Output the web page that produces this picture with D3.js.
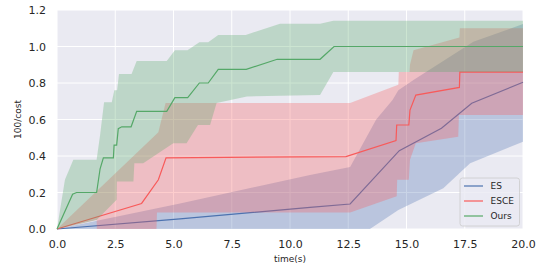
<!DOCTYPE html>
<html><head><meta charset="utf-8">
<script src="https://cdn.jsdelivr.net/npm/d3@7"></script>
<style>body{margin:0;background:#fff}svg{display:block}text{font-family:"DejaVu Sans",sans-serif;fill:#262626}</style>
</head><body><svg id="c" width="541" height="265"></svg>
<script>
// ---- data (time in s, value = 100/cost) ----
const xTicks = [0, 2.5, 5, 7.5, 10, 12.5, 15, 17.5, 20];
const yTicks = [0, 0.2, 0.4, 0.6, 0.8, 1.0, 1.2];
const seriesNames = ["ES", "ESCE", "Ours"];

const esMean = [[0,0],[5.28,0.055],[10.86,0.119],[12.58,0.137],[14.69,0.429],[16.5,0.552],[17.8,0.689],[20,0.804]];
const esUpper = [[0,0],[5.28,0.14],[10.86,0.296],[12.58,0.34],[13.7,0.6],[14.4,0.707],[14.65,0.76],[15.3,0.816],[17.87,1.026],[20,1.123]];
const esLower = [[0,0],[13.43,0],[14.65,0.104],[16.58,0.223],[17.73,0.36],[20,0.478]];

const esceMean = [[0,0],[3.63,0.14],[4.35,0.27],[4.68,0.39],[12.4,0.397],[14.55,0.484],[14.58,0.57],[15.1,0.57],[15.15,0.652],[15.4,0.734],[17.27,0.776],[17.29,0.86],[20,0.86]];
const esceUpper = [[0,0],[4.35,0.53],[4.66,0.69],[12.58,0.69],[14.65,0.79],[14.67,0.86],[15.13,0.86],[15.15,0.9],[15.3,0.98],[17.27,1.05],[17.29,1.1],[20,1.1]];
const esceLower = [[0,0],[1.7,0.05],[1.71,0],[4.27,0],[4.29,0.09],[12.58,0.09],[14.58,0.18],[14.6,0.27],[15.1,0.27],[15.15,0.38],[15.4,0.47],[17.22,0.506],[17.25,0.625],[20,0.625]];

const oursMean = [[0,0],[0.67,0.19],[0.84,0.2],[1.7,0.2],[1.85,0.33],[1.99,0.39],[2.42,0.39],[2.45,0.46],[2.56,0.46],[2.63,0.55],[2.78,0.56],[3.18,0.56],[3.42,0.645],[4.71,0.645],[5.06,0.72],[5.61,0.72],[6.11,0.8],[6.49,0.8],[6.92,0.875],[8.12,0.875],[9.45,0.93],[11.29,0.93],[11.89,1.0],[20,1.0]];
const oursUpper = [[0,0],[0.34,0.27],[0.7,0.38],[1.7,0.38],[1.85,0.515],[2.02,0.694],[2.35,0.694],[2.46,0.76],[2.58,0.76],[2.66,0.85],[3.2,0.85],[3.42,0.92],[4.71,0.92],[5.06,0.98],[5.6,0.98],[6.11,1.023],[6.49,1.023],[6.92,1.063],[8.1,1.063],[9.57,1.125],[11.29,1.125],[11.86,1.141],[20,1.141]];
const oursLower = [[0,0],[1.7,0.05],[2.56,0.16],[2.57,0.26],[3.28,0.26],[3.32,0.36],[3.7,0.36],[4.99,0.47],[5.56,0.47],[6.05,0.57],[6.57,0.57],[6.85,0.69],[8.15,0.726],[11.29,0.734],[11.86,0.86],[20,0.86]];

const colors = {ES:"#4c72b0", ESCE:"#f85a5a", Ours:"#55a868"};

// ---- layout ----
const svg = d3.select("#c");
const L = 57, R = 523, T = 10, B = 229;
const x = d3.scaleLinear().domain([0,20]).range([L,R]);
const y = d3.scaleLinear().domain([0,1.2]).range([B,T]);

svg.append("rect").attr("x",L).attr("y",T).attr("width",R-L).attr("height",B-T).attr("fill","#eaeaf2");
const g = svg.append("g");
g.selectAll(".gx").data(xTicks).join("line").attr("x1",d=>x(d)).attr("x2",d=>x(d)).attr("y1",T).attr("y2",B).attr("stroke","#fff").attr("stroke-width",1);
g.selectAll(".gy").data(yTicks).join("line").attr("class","gy").attr("y1",d=>y(d)).attr("y2",d=>y(d)).attr("x1",L).attr("x2",R).attr("stroke","#fff").attr("stroke-width",1);

const line = d3.line().x(d=>x(d[0])).y(d=>y(d[1]));
function band(up, lo, col){
  const pts = up.concat(lo.slice().reverse());
  svg.append("path").attr("d", line(pts)+"Z").attr("fill",col).attr("fill-opacity",0.3).attr("stroke","none");
}
function mean(m, col){
  svg.append("path").attr("d", line(m)).attr("fill","none").attr("stroke",col).attr("stroke-width",1.2);
}
band(esUpper, esLower, colors.ES); mean(esMean, colors.ES);
band(esceUpper, esceLower, colors.ESCE); mean(esceMean, colors.ESCE);
band(oursUpper, oursLower, colors.Ours); mean(oursMean, colors.Ours);

// ---- axes ----
const xa = svg.append("g").attr("transform",`translate(0,${B})`).call(d3.axisBottom(x).tickValues(xTicks).tickFormat(d3.format(".1f")).tickSize(0).tickPadding(11));
const ya = svg.append("g").attr("transform",`translate(${L},0)`).call(d3.axisLeft(y).tickValues(yTicks).tickFormat(d3.format(".1f")).tickSize(0).tickPadding(11));
[xa,ya].forEach(a=>{a.select(".domain").remove(); a.selectAll("text").attr("font-size",11).attr("fill","#262626").attr("font-family","DejaVu Sans");});

svg.append("text").attr("x",(L+R)/2).attr("y",262).attr("text-anchor","middle").attr("font-size",9).text("time(s)");
svg.append("text").attr("transform",`translate(21,${(T+B)/2}) rotate(-90)`).attr("text-anchor","middle").attr("font-size",9).text("100/cost");

// ---- legend ----
const lg = svg.append("g");
lg.append("rect").attr("x",460).attr("y",178).attr("width",59.5).attr("height",48).attr("rx",2.5).attr("fill","#eaeaf2").attr("fill-opacity",0.8).attr("stroke","#cccccc").attr("stroke-width",0.8);
seriesNames.forEach((n,i)=>{
  const yy = 186 + i*15;
  lg.append("line").attr("x1",464).attr("x2",483).attr("y1",yy).attr("y2",yy).attr("stroke",colors[n]).attr("stroke-width",1.2);
  lg.append("text").attr("x",490.5).attr("y",yy+3.3).attr("font-size",9).text(n);
});
</script></body></html>
